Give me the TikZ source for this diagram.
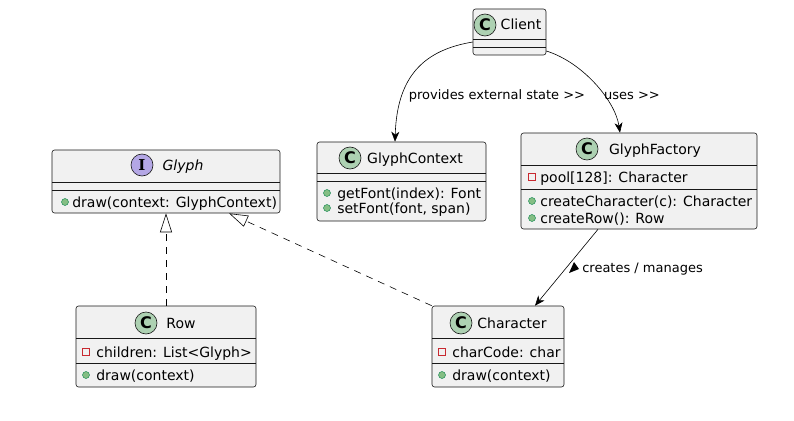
\documentclass[tikz,border=0pt]{standalone}
\usepackage{fontspec}
\setmainfont{DejaVu Sans}
\newfontfamily\spotserif{DejaVu Serif}
\usetikzlibrary{arrows.meta}
\usetikzlibrary{positioning}
\definecolor{boxfill}{HTML}{F1F1F1}
\definecolor{boxline}{HTML}{181818}
\definecolor{classspot}{HTML}{ADD1B2}
\definecolor{ifacespot}{HTML}{B4A7E5}
\definecolor{privred}{HTML}{C82930}
\definecolor{pubfill}{HTML}{84BE84}
\definecolor{publine}{HTML}{038048}

\begin{document}
\begin{tikzpicture}
	[x=1pt,y=-1pt,line width=0.6pt,
	every node/.style={inner sep=0pt,font=\fontsize{14}{16}\selectfont},
	classbox/.style={draw=boxline,fill=boxfill,rounded corners=2.5pt},
	spot/.style={circle,draw=boxline,fill=classspot,minimum size=22pt,font=\fontsize{16}{16}\selectfont\bfseries},
	header/.style={text height=11pt,text depth=1pt},
	member/.style={anchor=west,text height=11pt,text depth=1pt},
	pub/.style={circle,draw=publine,fill=pubfill,line width=0.4pt,minimum size=7pt},
	priv/.style={draw=privred,line width=0.7pt,minimum size=7pt},
	reltext/.style={text height=10pt,text depth=1pt,font=\fontsize{13}{15}\selectfont},
	uses/.style={-{Stealth[length=10pt,width=8pt,inset=3pt]}},
	realizes/.style={dash pattern=on 7pt off 6pt,-{Triangle[open,length=19pt,width=12pt]}}]
	\useasboundingbox (0,0) rectangle (794,420);

	% boxes
	\node[classbox,minimum width=73pt,minimum height=46pt] (client) at (509.5,32) {};
	\node[classbox,minimum width=228pt,minimum height=63pt] (glyph) at (166,181.5) {};
	\node[classbox,minimum width=169pt,minimum height=79pt] (gctx) at (401.5,181.5) {};
	\node[classbox,minimum width=236pt,minimum height=96pt] (factory) at (639,181) {};
	\node[classbox,minimum width=180pt,minimum height=81pt] (row) at (166,346.5) {};
	\node[classbox,minimum width=132pt,minimum height=81pt] (character) at (498,346.5) {};

	% separators
	\foreach \xa/\xb/\y in {473/546/39, 473/546/47, 52/280/182, 52/280/190,
		317/486/173, 317/486/181, 521/757/165, 521/757/189,
		76/256/338, 76/256/363, 432/564/338, 432/564/363}
	\draw[boxline] (\xa,\y) -- (\xb,\y);

	% headers
	\node[spot] (clientspot) at (485,25) {C};
	\node[header] (clientname) at (521,25) {Client};
	\node[spot,fill=ifacespot,font=\fontsize{15}{15}\selectfont\spotserif\bfseries] (glyphspot) at (142,165) {I};
	\node[header,font=\fontsize{14}{16}\selectfont\itshape] (glyphname) at (183,165) {Glyph};
	\node[spot] (gctxspot) at (350,158) {C};
	\node[header] (gctxname) at (415,158) {GlyphContext};
	\node[spot] (factoryspot) at (587,149) {C};
	\node[header] (factoryname) at (655,149) {GlyphFactory};
	\node[spot] (rowspot) at (146,323) {C};
	\node[header] (rowname) at (181,323) {Row};
	\node[spot] (charspot) at (461,323) {C};
	\node[header] (charname) at (512,323) {Character};

	% members
	\node[pub] (gm1) at (65,202) {};
	\node[member] (gm1t) at (72,202) {draw(context: GlyphContext)};
	\node[pub] (cm1) at (327,193) {};
	\node[member] (cm1t) at (337,193) {getFont(index): Font};
	\node[pub] (cm2) at (327,208) {};
	\node[member] (cm2t) at (337,208) {setFont(font, span)};
	\node[priv] (fa1) at (532,177) {};
	\node[member] (fa1t) at (540,177) {pool[128]: Character};
	\node[pub] (fm1) at (532,201) {};
	\node[member] (fm1t) at (540,201) {createCharacter(c): Character};
	\node[pub] (fm2) at (532,218) {};
	\node[member] (fm2t) at (540,218) {createRow(): Row};
	\node[priv] (ra1) at (86,352) {};
	\node[member] (ra1t) at (96,352) {children: List<Glyph>};
	\node[pub] (rm1) at (86,375) {};
	\node[member] (rm1t) at (96,375) {draw(context)};
	\node[priv] (ha1) at (442,352) {};
	\node[member] (ha1t) at (452,352) {charCode: char};
	\node[pub] (hm1) at (442,375) {};
	\node[member] (hm1t) at (452,375) {draw(context)};

	% relations
	\draw[uses] ([yshift=-10pt]client.west) .. controls (425,50) and (397,75) .. ([xshift=-6.5pt]gctx.north);
	\node[reltext] (provlbl) at (497,95) {provides external state >{}>};
	\draw[uses] ([yshift=-19pt]client.east) .. controls (582,62) and (615,100) .. ([xshift=-19pt]factory.north);
	\node[reltext] (useslbl) at (632,95) {uses >{}>};
	\draw[uses] ([xshift=-41pt]factory.south) -- ([xshift=37pt]character.north);
	\fill (569,273) -- (574,262) -- (579,269) -- cycle;
	\node[reltext,anchor=west] (createlbl) at (582,268) {creates / manages};
	\draw[realizes] (row.north) -- (glyph.south);
	\draw[realizes] (character.north west) -- ([xshift=63pt]glyph.south);
\end{tikzpicture}
\end{document}
